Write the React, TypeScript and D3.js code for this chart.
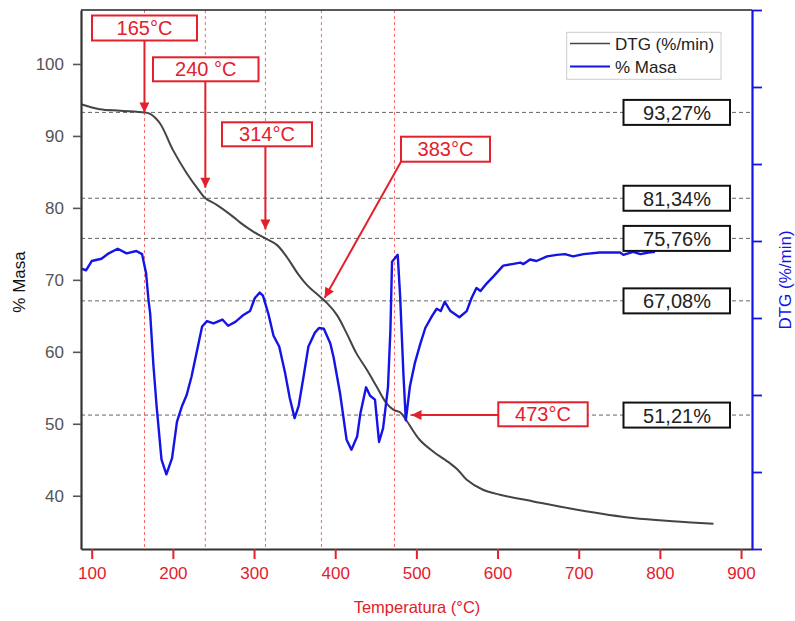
import React, { useEffect, useRef } from 'react';
import * as d3 from 'd3';

// TG mass curve (% Masa) versus temperature (°C)
const massTemps = [87, 110, 135, 165, 172, 184, 200, 217, 233, 240, 254, 274, 283, 299, 314, 328, 340, 355, 365, 381, 390, 402, 414, 426, 439, 451, 463, 472, 480, 488, 504, 521, 541, 551, 562, 582, 603, 644, 698, 767, 821, 866];
const massValues = [94.4, 93.71, 93.51, 93.27, 93.06, 91.76, 88.06, 84.82, 82.3, 81.34, 80.42, 78.79, 77.96, 76.71, 75.76, 74.86, 73.24, 70.69, 69.31, 67.68, 66.76, 65.14, 62.6, 59.82, 57.5, 55.18, 52.88, 51.94, 51.6, 50.42, 47.78, 46.11, 44.54, 43.61, 42.22, 40.83, 40.14, 39.21, 38.06, 36.9, 36.43, 36.11];

// DTG curve (%/min), right axis
const dtgTemps = [87, 93, 100, 112, 121, 132, 143, 155, 162, 167, 170, 172, 176, 180, 186, 192, 199, 205, 211, 217, 223, 229, 236, 242, 250, 261, 268, 277, 287, 295, 301, 307, 311, 318, 324, 331, 338, 344, 350, 355, 361, 367, 375, 380, 386, 394, 398, 406, 414, 420, 427, 431, 438, 443, 449, 454, 459, 465, 468, 470, 477, 480, 484, 487, 492, 498, 505, 511, 519, 525, 530, 535, 542, 553, 562, 568, 574, 579, 585, 595, 607, 618, 628, 632, 640, 648, 661, 673, 683, 693, 706, 726, 751, 755, 767, 776, 786, 794];
const dtgValues = [-3.36, -3.38, -3.26, -3.23, -3.16, -3.1, -3.16, -3.13, -3.17, -3.42, -3.77, -3.94, -4.61, -5.15, -5.84, -6.03, -5.82, -5.35, -5.15, -5.0, -4.76, -4.46, -4.11, -4.04, -4.07, -4.02, -4.1, -4.05, -3.96, -3.91, -3.74, -3.67, -3.71, -3.96, -4.23, -4.37, -4.7, -5.04, -5.3, -5.14, -4.76, -4.37, -4.19, -4.13, -4.14, -4.33, -4.51, -4.98, -5.58, -5.71, -5.54, -5.24, -4.9, -5.01, -5.06, -5.61, -5.43, -4.9, -4.16, -3.27, -3.18, -3.72, -4.72, -5.33, -4.89, -4.59, -4.33, -4.13, -3.98, -3.88, -3.91, -3.79, -3.91, -3.99, -3.91, -3.74, -3.61, -3.65, -3.57, -3.46, -3.32, -3.3, -3.28, -3.3, -3.24, -3.26, -3.2, -3.18, -3.17, -3.2, -3.17, -3.15, -3.15, -3.18, -3.14, -3.17, -3.15, -3.14];

const xTicks = [100, 200, 300, 400, 500, 600, 700, 800, 900];
const xMinorTicks = [150, 250, 350, 450, 550, 650, 750, 850];
const yTicks = [40, 50, 60, 70, 80, 90, 100];
const yMinorTicks = [35, 45, 55, 65, 75, 85, 95, 105];
const rTicks = [-7, -6, -5, -4, -3, -2, -1, 0];
const rMinorTicks = [-6.5, -5.5, -4.5, -3.5, -2.5, -1.5, -0.5];

// Mass-loss levels
const levelValues = [93.27, 81.34, 75.76, 67.08, 51.21];
const levelLabels = ['93,27%', '81,34%', '75,76%', '67,08%', '51,21%'];

// Decomposition events
const eventTemps = [165, 240, 314, 383, 473];
const eventLabels = ['165°C', '240 °C', '314°C', '383°C', '473°C'];
const eventTipTemps = [165, 240, 314, 387, 494];
const eventTipValues = [93.27, 82.8, 77.0, 67.5, 51.21];

// Label box layout (px) and where each arrow leaves its box
const eventBoxes = [
  { x: 92, y: 15.5, w: 105, h: 25, ax: 'tip', ay: 40.5 },
  { x: 153, y: 57.3, w: 105.5, h: 24, ax: 'tip', ay: 81.3 },
  { x: 222, y: 122.3, w: 90, h: 24, ax: 'tip', ay: 146.3 },
  { x: 401, y: 136.7, w: 89, h: 25, ax: 401, ay: 161.7 },
  { x: 498.3, y: 402.3, w: 89.4, h: 24, ax: 498.3, ay: 'tip' },
];

const W = 795;
const H = 621;
const L = 81, R = 752, T = 10, B = 549;
const RED = '#e3202b';
const BLUE = '#1414e6';
const FONT = 'Liberation Sans, Arial, sans-serif';

export default function App() {
  const ref = useRef<SVGSVGElement | null>(null);

  useEffect(() => {
    const svg = d3.select(ref.current);
    svg.selectAll('*').remove();

    const x = d3.scaleLinear().domain([86.8, 913.5]).range([L, R]);
    const y = d3.scaleLinear().domain([32.6, 107.5]).range([B, T]);
    const yR = d3.scaleLinear().domain([-7, 0]).range([B, T]);

    const defs = svg.append('defs');
    defs.append('marker')
      .attr('id', 'arrowRed')
      .attr('viewBox', '0 0 10 10')
      .attr('refX', 10).attr('refY', 5)
      .attr('markerUnits', 'userSpaceOnUse')
      .attr('markerWidth', 11).attr('markerHeight', 10)
      .attr('orient', 'auto')
      .append('path').attr('d', 'M0,0 L10,5 L0,10 z').attr('fill', RED);

    // vertical event guides
    svg.append('g').selectAll('line').data(eventTemps).join('line')
      .attr('x1', d => x(d)).attr('x2', d => x(d))
      .attr('y1', T).attr('y2', B)
      .attr('stroke', '#ee6a6a').attr('stroke-width', 1)
      .attr('stroke-dasharray', '3,3');

    // horizontal level guides
    svg.append('g').selectAll('line').data(levelValues).join('line')
      .attr('x1', L).attr('x2', R)
      .attr('y1', d => y(d)).attr('y2', d => y(d))
      .attr('stroke', '#666').attr('stroke-width', 1)
      .attr('stroke-dasharray', '4,3');

    // curves
    const massLine = d3.line<number>()
      .x((_, i) => x(massTemps[i]))
      .y(d => y(d))
      .curve(d3.curveCatmullRom.alpha(0.5));
    svg.append('path').attr('d', massLine(massValues) || '')
      .attr('fill', 'none').attr('stroke', '#444').attr('stroke-width', 2);

    const dtgLine = d3.line<number>()
      .x((_, i) => x(dtgTemps[i]))
      .y(d => yR(d));
    svg.append('path').attr('d', dtgLine(dtgValues) || '')
      .attr('fill', 'none').attr('stroke', BLUE).attr('stroke-width', 2.4)
      .attr('stroke-linejoin', 'round');

    // level value boxes
    const lv = svg.append('g');
    levelValues.forEach((v, i) => {
      const cy = y(v);
      lv.append('rect').attr('x', 623.5).attr('y', cy - 12.5)
        .attr('width', 106.5).attr('height', 25)
        .attr('fill', '#fff').attr('stroke', '#111').attr('stroke-width', 2);
      lv.append('text').attr('x', 677).attr('y', cy + 7.5)
        .attr('text-anchor', 'middle')
        .attr('font-family', FONT).attr('font-size', 20).attr('fill', '#222')
        .text(levelLabels[i]);
    });

    // event labels with arrows
    const ev = svg.append('g');
    eventTemps.forEach((t, i) => {
      const b = eventBoxes[i];
      const tx = x(eventTipTemps[i]);
      const ty = y(eventTipValues[i]);
      const sx = b.ax === 'tip' ? tx : (b.ax as number);
      const sy = b.ay === 'tip' ? ty : (b.ay as number);
      ev.append('line').attr('x1', sx).attr('y1', sy).attr('x2', tx).attr('y2', ty)
        .attr('stroke', RED).attr('stroke-width', 2)
        .attr('marker-end', 'url(#arrowRed)');
      ev.append('rect').attr('x', b.x).attr('y', b.y)
        .attr('width', b.w).attr('height', b.h)
        .attr('fill', '#fff').attr('stroke', RED).attr('stroke-width', 2);
      ev.append('text').attr('x', b.x + b.w / 2).attr('y', b.y + b.h / 2 + 7)
        .attr('text-anchor', 'middle')
        .attr('font-family', FONT).attr('font-size', 20).attr('fill', RED)
        .text(eventLabels[i]);
    });

    // top frame
    svg.append('line').attr('x1', L).attr('x2', R).attr('y1', T).attr('y2', T)
      .attr('stroke', '#222').attr('stroke-width', 1.5);

    // left axis
    const gl = svg.append('g').attr('transform', `translate(${L},0)`);
    gl.call(d3.axisLeft(y).tickValues(yMinorTicks).tickSize(5).tickSizeOuter(0).tickFormat(() => ''));
    gl.call(d3.axisLeft(y).tickValues(yTicks).tickSize(8).tickSizeOuter(0).tickPadding(9).tickFormat(d3.format('d')));
    gl.selectAll('.domain').attr('stroke', '#333').attr('stroke-width', 2.2);
    gl.selectAll('.tick line').attr('stroke', '#555').attr('stroke-width', 1.6);
    gl.selectAll('.tick text').attr('fill', '#555').attr('font-size', 17).attr('font-family', FONT);

    // right axis
    const gr = svg.append('g').attr('transform', `translate(${R},0)`);
    gr.call(d3.axisRight(yR).tickValues(rMinorTicks).tickSize(5).tickSizeOuter(0).tickFormat(() => ''));
    gr.call(d3.axisRight(yR).tickValues(rTicks).tickSize(10).tickSizeOuter(0).tickFormat(() => ''));
    gr.selectAll('.domain').attr('stroke', BLUE).attr('stroke-width', 2.2);
    gr.selectAll('.tick line').attr('stroke', BLUE).attr('stroke-width', 1.8);

    // bottom axis
    const gb = svg.append('g').attr('transform', `translate(0,${B})`);
    gb.call(d3.axisBottom(x).tickValues(xMinorTicks).tickSize(5).tickSizeOuter(0).tickFormat(() => ''));
    gb.call(d3.axisBottom(x).tickValues(xTicks).tickSize(10).tickSizeOuter(0).tickPadding(8).tickFormat(d3.format('d')));
    gb.selectAll('.domain').attr('stroke', '#333').attr('stroke-width', 2.2);
    gb.selectAll('.tick line').attr('stroke', RED).attr('stroke-width', 2);
    gb.selectAll('.tick text').attr('fill', RED).attr('font-size', 17).attr('font-family', FONT);

    // axis titles
    svg.append('text').attr('transform', 'translate(25,282) rotate(-90)')
      .attr('text-anchor', 'middle').attr('font-family', FONT).attr('font-size', 17)
      .attr('fill', '#111').text('% Masa');
    svg.append('text').attr('transform', 'translate(791,280) rotate(-90)')
      .attr('text-anchor', 'middle').attr('font-family', FONT).attr('font-size', 17)
      .attr('fill', BLUE).text('DTG (%/min)');
    svg.append('text').attr('x', 417).attr('y', 613)
      .attr('text-anchor', 'middle').attr('font-family', FONT).attr('font-size', 16.5)
      .attr('fill', RED).text('Temperatura (°C)');

    // legend
    const lg = svg.append('g');
    lg.append('rect').attr('x', 566.7).attr('y', 32.3).attr('width', 154.3).attr('height', 47)
      .attr('fill', '#fff').attr('stroke', '#ccc').attr('stroke-width', 1);
    const entries = [
      { label: 'DTG (%/min)', color: '#444', w: 1.5, cy: 43.5 },
      { label: '% Masa', color: BLUE, w: 2, cy: 66.5 },
    ];
    entries.forEach(e => {
      lg.append('line').attr('x1', 570).attr('x2', 610).attr('y1', e.cy).attr('y2', e.cy)
        .attr('stroke', e.color).attr('stroke-width', e.w);
      lg.append('text').attr('x', 615).attr('y', e.cy + 6)
        .attr('font-family', FONT).attr('font-size', 17).attr('fill', '#222')
        .text(e.label);
    });
  }, []);

  return (
    <svg
      ref={ref}
      width={W}
      height={H}
      style={{ position: 'absolute', left: 0, top: 0, background: '#fff' }}
    />
  );
}
